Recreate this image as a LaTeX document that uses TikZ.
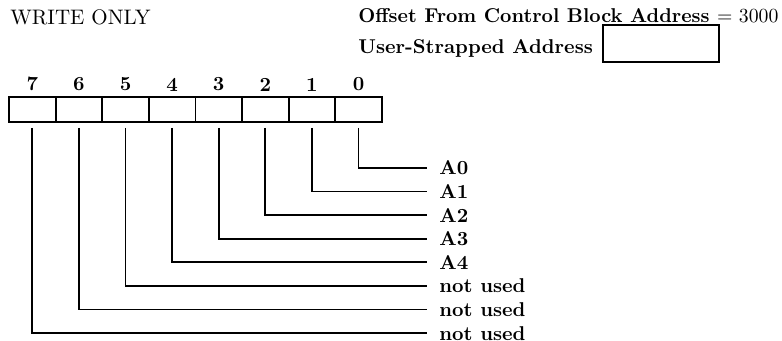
\documentclass[tikz,border=0pt]{standalone}
\usepackage{graphicx}
\usepackage{tikz}
\usetikzlibrary{positioning,calc}

\begin{document}
\begin{tikzpicture}[x=0.5pt, y=-0.5pt, every node/.style={font=\normalsize\bfseries},
    bitcell/.style={draw, line width=0.9pt, minimum width=23.3pt, minimum height=12.5pt, inner sep=0pt},
    bitlabel/.style={anchor=west, inner sep=0pt},
    bitline/.style={line width=0.9pt, shorten >=6pt}]
\useasboundingbox (0,0) rectangle (782,341);
% ==== Header ====
\node[anchor=west, inner sep=0pt, font=\fontsize{10.5}{12}\selectfont] (mode) at (10,17) {WRITE ONLY};
\node[anchor=west, inner sep=0pt] (offs) at (358,16)
    {\resizebox{210pt}{\height}{Offset From Control Block Address {\mdseries$=$ 3000}}};
\node[anchor=west, inner sep=0pt] (usr) at (358,48) {User-Strapped Address};
\node[draw, line width=0.9pt, minimum width=58pt, minimum height=18.5pt]
    (strap) at (661,43.5) {};

% ==== Register cells, bit 7 on the left ====
\foreach \b in {0,...,7}{
  \node[bitcell] (b\b) at ({9+46.6*(7-\b)+23.3},109.5) {};
  \node[above=-1pt of b\b] (n\b) {\b};
}

% ==== Field labels and connectors ====
\foreach \b/\lab in {0/A0,1/A1,2/A2,3/A3,4/A4,5/not used,6/not used,7/not used}{
  \node[bitlabel] (l\b) at (439,{168+23.6*\b}) {\lab};
  \draw[bitline] ([yshift=-2.5pt]b\b.south) |- (l\b.west);
}
\end{tikzpicture}
\end{document}
